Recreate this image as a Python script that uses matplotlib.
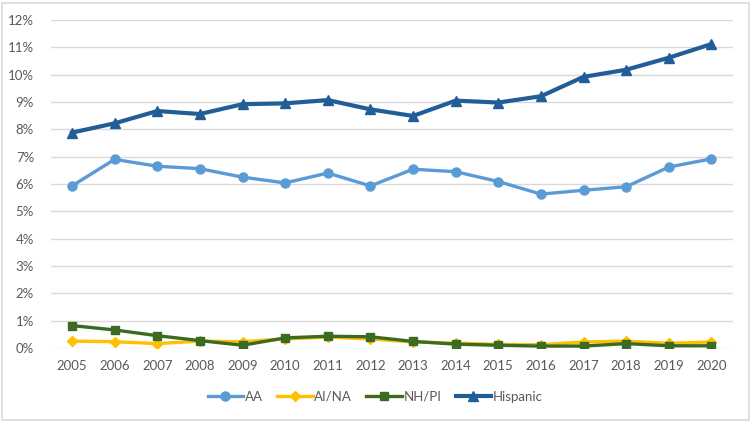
import matplotlib
matplotlib.use("Agg")
import matplotlib.pyplot as plt
from matplotlib.patches import Rectangle
from matplotlib.ticker import FuncFormatter

years = ["2005", "2006", "2007", "2008", "2009", "2010", "2011", "2012",
         "2013", "2014", "2015", "2016", "2017", "2018", "2019", "2020"]
aa = [5.93, 6.90, 6.65, 6.56, 6.25, 6.04, 6.40, 5.93, 6.54, 6.45, 6.09, 5.63, 5.77, 5.90, 6.62, 6.92]
aina = [0.25, 0.23, 0.16, 0.25, 0.23, 0.33, 0.40, 0.33, 0.22, 0.18, 0.13, 0.12, 0.22, 0.25, 0.17, 0.22]
nhpi = [0.82, 0.66, 0.45, 0.27, 0.10, 0.37, 0.43, 0.41, 0.24, 0.14, 0.10, 0.07, 0.07, 0.16, 0.08, 0.08]
hispanic = [7.88, 8.22, 8.67, 8.56, 8.92, 8.95, 9.07, 8.73, 8.49, 9.05, 8.98, 9.21, 9.92, 10.18, 10.62, 11.12]
yticks = list(range(0, 13))

plt.rcParams['font.family'] = ['Lato', 'DejaVu Sans']

fig = plt.figure(figsize=(7.5, 4.22), dpi=100)
ax = fig.add_axes([0.0676, 0.1754, 0.9094, 0.7772])

x = list(range(len(years)))
ax.plot(x, aa, color='#5B9BD5', lw=2.4, marker='o', ms=6.5, label='AA', zorder=3)
ax.plot(x, aina, color='#FFC000', lw=2.4, marker='D', ms=5, label='AI/NA', zorder=3)
ax.plot(x, nhpi, color='#3B6B22', lw=2.4, marker='s', ms=6, label='NH/PI', zorder=4)
ax.plot(x, hispanic, color='#215E98', lw=3.0, marker='^', ms=7.5, label='Hispanic', zorder=3)

ax.set_xlim(-0.5, len(years) - 0.5)
ax.set_ylim(0, 12)
ax.set_yticks(yticks)
ax.yaxis.set_major_formatter(FuncFormatter(lambda v, p: f"{int(v)}%"))
ax.set_xticks(x)
ax.set_xticklabels(years)
ax.grid(axis='y', color='#D9D9D9', lw=1)
ax.set_axisbelow(True)
for s in ax.spines.values():
    s.set_visible(False)
ax.tick_params(axis='both', length=0, labelsize=9.5, colors='#595959')
ax.tick_params(axis='y', pad=12)
ax.tick_params(axis='x', pad=9)

leg = fig.legend(loc='center', bbox_to_anchor=(0.5, 0.06), ncol=4, frameon=False,
                 fontsize=9.5, handlelength=2.7, handletextpad=0.1, columnspacing=1.1)
for t in leg.get_texts():
    t.set_color('#595959')

fig.patches.append(Rectangle((0.002, 0.004), 0.996, 0.99, transform=fig.transFigure,
                             fill=False, edgecolor='#D9D9D9', lw=1.2))

fig.savefig('out.png', dpi=100)
